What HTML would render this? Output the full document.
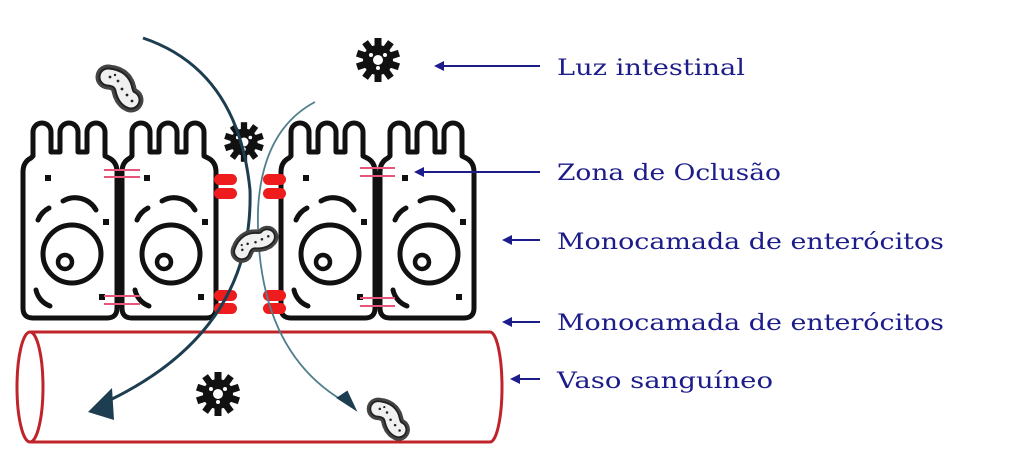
<!DOCTYPE html>
<html><head><meta charset="utf-8"><style>
html,body{margin:0;padding:0;background:#fff;width:1024px;height:465px;overflow:hidden}
svg{display:block}
text{font-family:"DejaVu Serif","Liberation Serif",serif;font-size:22px;fill:#1c1c8a}
</style></head><body>
<svg width="1024" height="465" viewBox="0 0 1024 465" xmlns="http://www.w3.org/2000/svg">
<defs>
<g id="cell">
<path d="M2,172 Q2,162 10,158 L12,156 V132 A9 9 0 0 1 30 132 V152 H39 V132 A9 9 0 0 1 57 132 V152 H66 V132 A9 9 0 0 1 84 132 V156 L88,158 Q96,162 96,172 V308 Q96,318 86,318 H12 Q2,318 2,308 Z" fill="#fff" stroke="#111" stroke-width="5" stroke-linejoin="round"/>
<circle cx="51" cy="254" r="29" fill="none" stroke="#111" stroke-width="5"/>
<circle cx="44" cy="262" r="7" fill="none" stroke="#111" stroke-width="4.5"/>
<rect x="24" y="175" width="6" height="6" fill="#111"/>
<rect x="82" y="219" width="6" height="6" fill="#111"/>
<rect x="78" y="294" width="6" height="6" fill="#111"/>
<path d="M42,201 A24 24 0 0 1 75,210" fill="none" stroke="#111" stroke-width="5" stroke-linecap="round"/>
<path d="M17,220 A24 24 0 0 1 28,208" fill="none" stroke="#111" stroke-width="5" stroke-linecap="round"/>
<path d="M15,290 A22 22 0 0 0 29,306" fill="none" stroke="#111" stroke-width="5" stroke-linecap="round"/>
</g>
<g id="gear">
<g fill="#111">
<rect x="-3.5" y="-22" width="7" height="44"/>
<rect x="-3.5" y="-22" width="7" height="44" transform="rotate(36)"/>
<rect x="-3.5" y="-22" width="7" height="44" transform="rotate(72)"/>
<rect x="-3.5" y="-22" width="7" height="44" transform="rotate(108)"/>
<rect x="-3.5" y="-22" width="7" height="44" transform="rotate(144)"/>
<circle r="15"/>
</g>
<circle r="5" fill="#fff"/>
<circle cx="-7" cy="-5" r="2" fill="#fff"/>
<circle cx="7" cy="-5" r="2" fill="#fff"/>
<circle cx="0" cy="8" r="2" fill="#fff"/>
</g>
<g id="bact">
<path d="M-10,-9 Q4,-8 6,4 Q8,12 13,14" fill="none" stroke="#444" stroke-width="25" stroke-dasharray="1.2 2.3" stroke-linecap="round"/>
<path d="M-10,-9 Q4,-8 6,4 Q8,12 13,14" fill="none" stroke="#222" stroke-width="19" stroke-linecap="round"/>
<path d="M-10,-9 Q4,-8 6,4 Q8,12 13,14" fill="none" stroke="#f0f0f0" stroke-width="15" stroke-linecap="round"/>
<circle cx="-8" cy="-9" r="1.4" fill="#222"/><circle cx="0" cy="-5" r="1.4" fill="#222"/><circle cx="4" cy="3" r="1.4" fill="#222"/><circle cx="9" cy="9" r="1.4" fill="#222"/><circle cx="14" cy="15" r="1.4" fill="#222"/><circle cx="-3" cy="-11" r="1.2" fill="#222"/>
</g>
</defs>

<path d="M30,332 H490 A12 55 0 0 1 490,442 H30" fill="#fff" stroke="#c0242b" stroke-width="3"/>
<ellipse cx="30" cy="387" rx="13" ry="55" fill="#fff" stroke="#c0242b" stroke-width="3"/>

<use href="#cell" x="21"/>
<use href="#cell" x="120"/>
<use href="#cell" x="279"/>
<use href="#cell" x="378"/>

<g stroke="#e8557a" stroke-width="2">
<line x1="104" y1="170" x2="140" y2="170"/><line x1="104" y1="177" x2="140" y2="177"/>
<line x1="104" y1="296" x2="140" y2="296"/><line x1="104" y1="304" x2="140" y2="304"/>
<line x1="360" y1="168" x2="395" y2="168"/><line x1="360" y1="176" x2="395" y2="176"/>
<line x1="360" y1="298" x2="395" y2="298"/><line x1="360" y1="306" x2="395" y2="306"/>
</g>
<g fill="#ee1c1c">
<rect x="214" y="174" width="23" height="11" rx="5.5"/><rect x="214" y="188" width="23" height="11" rx="5.5"/>
<rect x="214" y="290" width="23" height="11" rx="5.5"/><rect x="214" y="303" width="23" height="11" rx="5.5"/>
<rect x="263" y="174" width="23" height="11" rx="5.5"/><rect x="263" y="188" width="23" height="11" rx="5.5"/>
<rect x="263" y="290" width="23" height="11" rx="5.5"/><rect x="263" y="303" width="23" height="11" rx="5.5"/>
</g>

<use href="#gear" transform="translate(378,60)"/>
<use href="#gear" transform="translate(244,142) scale(0.9)"/>
<use href="#gear" transform="translate(218,394)"/>

<path d="M143,38 Q238,70 250,190 Q254,330 110,400" fill="none" stroke="#1d3d50" stroke-width="3"/>
<path d="M88,412 L112,388 L114,420 Z" fill="#1d3d50"/>
<path d="M315,102 Q262,130 258,210 Q255,350 345,402" fill="none" stroke="#4f7f8c" stroke-width="1.8"/>
<path d="M355,409 L338,398 L347,392 Z" fill="#1d3d50" stroke="#1d3d50" stroke-width="2"/>

<use href="#bact" transform="translate(118,86)"/>
<use href="#bact" transform="translate(252,245) rotate(-75) scale(0.9)"/>
<use href="#bact" transform="translate(387,417) scale(0.9)"/>

<g stroke="#1c1c8a" stroke-width="2" fill="#1c1c8a">
<line x1="440" y1="66" x2="540" y2="66"/><path d="M434,66 L444,61 L444,71 Z" stroke="none"/>
<line x1="420" y1="172" x2="540" y2="172"/><path d="M414,172 L424,167 L424,177 Z" stroke="none"/>
<line x1="508" y1="240" x2="540" y2="240"/><path d="M502,240 L512,235 L512,245 Z" stroke="none"/>
<line x1="508" y1="322" x2="540" y2="322"/><path d="M502,322 L512,317 L512,327 Z" stroke="none"/>
<line x1="516" y1="379" x2="540" y2="379"/><path d="M510,379 L520,374 L520,384 Z" stroke="none"/>
</g>
<text x="557" y="75" textLength="188" lengthAdjust="spacingAndGlyphs">Luz intestinal</text>
<text x="557" y="180" textLength="224" lengthAdjust="spacingAndGlyphs">Zona de Oclusão</text>
<text x="557" y="249" textLength="387" lengthAdjust="spacingAndGlyphs">Monocamada de enterócitos</text>
<text x="557" y="330" textLength="387" lengthAdjust="spacingAndGlyphs">Monocamada de enterócitos</text>
<text x="557" y="388" textLength="216" lengthAdjust="spacingAndGlyphs">Vaso sanguíneo</text>
</svg>
</body></html>
